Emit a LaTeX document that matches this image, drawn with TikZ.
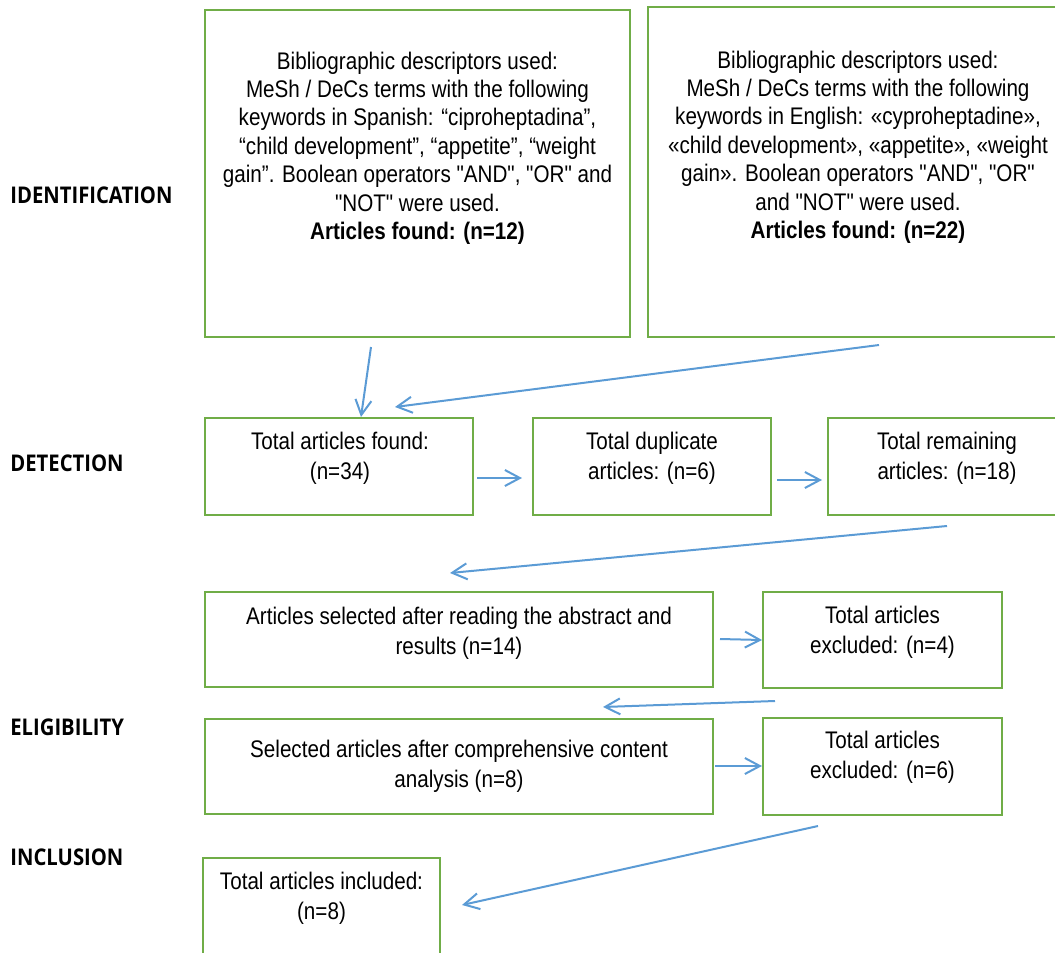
\documentclass[tikz,border=0pt]{standalone}
\usepackage{fontspec}
\setmainfont{Liberation Sans}
\newfontfamily\narrowfont[FakeStretch=0.86]{Liberation Sans}
\newfontfamily\stagefont[FakeStretch=0.88]{Open Sans}
\usetikzlibrary{arrows.meta,calc}
\definecolor{boxgreen}{HTML}{70AD47}
\definecolor{arrowblue}{HTML}{5B9BD5}
\tikzset{
  box/.style={draw=boxgreen,line width=1.2pt,inner sep=0pt,fill=none},
  txt/.style={inner sep=0pt,align=center,font=\narrowfont\fontsize{12pt}{15pt}\selectfont},
  bigtxt/.style={inner sep=0pt,align=center,font=\narrowfont\fontsize{12pt}{14.2pt}\selectfont},
  stage/.style={inner sep=0pt,anchor=west,font=\stagefont\bfseries\fontsize{11.5pt}{14pt}\selectfont},
  flow/.style={draw=arrowblue,line width=1pt,-{Straight Barb[length=7.5pt,width=8pt]}}
}
\begin{document}
\begin{tikzpicture}[x=0.5pt,y=-0.5pt]
\useasboundingbox (0,0) rectangle (1055,953);
\clip (0,0) rectangle (1055,953);

% stage labels
\node[stage] (sid) at (10,195) {IDENTIFICATION};
\node[stage] (sdet) at (10,463) {DETECTION};
\node[stage] (sel) at (10,727) {ELIGIBILITY};
\node[stage] (sinc) at (10,857) {INCLUSION};

% boxes
\node[box,minimum width=212.5pt,minimum height=163.5pt] (b1) at (417.5,173.5) {};
\node[box,minimum width=210pt,minimum height=165pt] (b2) at (858,172) {};
\node[box,minimum width=134pt,minimum height=48.5pt] (bA) at (339,466.5) {};
\node[box,minimum width=119pt,minimum height=48.5pt] (bB) at (652,466.5) {};
\node[box,minimum width=119pt,minimum height=48.5pt] (bC) at (947,466.5) {};
\node[box,minimum width=254pt,minimum height=47.5pt] (bD) at (459,639.5) {};
\node[box,minimum width=119.5pt,minimum height=48pt] (bE) at (882.5,640) {};
\node[box,minimum width=254pt,minimum height=47.5pt] (bF) at (459,766.5) {};
\node[box,minimum width=119.5pt,minimum height=48.5pt] (bG) at (882.5,766.5) {};
\node[box,minimum width=118.5pt,minimum height=71pt] (bH) at (321.5,929) {};

% texts
\node[bigtxt] (t1) at (417.5,148) {Bibliographic descriptors used:\\MeSh / DeCs terms with the following\\keywords in Spanish: “ciproheptadina”,\\“child development”, “appetite”, “weight\\gain”. Boolean operators "AND", "OR" and\\"NOT" were used.\\\textbf{Articles found: (n=12)}};
\node[bigtxt] (t2) at (858,147) {Bibliographic descriptors used:\\MeSh / DeCs terms with the following\\keywords in English: «cyproheptadine»,\\«child development», «appetite», «weight\\gain». Boolean operators "AND", "OR"\\and "NOT" were used.\\\textbf{Articles found: (n=22)}};
\node[txt] (tA) at (340,458) {Total articles found:\\(n=34)};
\node[txt] (tB) at (652,458) {Total duplicate\\articles: (n=6)};
\node[txt] (tC) at (947,458) {Total remaining\\articles: (n=18)};
\node[txt] (tD) at (459,633) {Articles selected after reading the abstract and\\results (n=14)};
\node[txt] (tE) at (882.5,632) {Total articles\\excluded: (n=4)};
\node[txt] (tF) at (459,766) {Selected articles after comprehensive content\\analysis (n=8)};
\node[txt] (tG) at (882.5,757.5) {Total articles\\excluded: (n=6)};
\node[txt] (tH) at (321.5,898) {Total articles included:\\(n=8)};

% connector end points
\coordinate (a1s) at (371,347);  \coordinate (a1e) at (361,417);
\coordinate (a2s) at (879,345);  \coordinate (a2e) at (395,407);
\coordinate (a3s) at (477,478);  \coordinate (a3e) at (522,478);
\coordinate (a4s) at (777,480);  \coordinate (a4e) at (822,480);
\coordinate (a5s) at (947,526);  \coordinate (a5e) at (450,573);
\coordinate (a6s) at (720,639);  \coordinate (a6e) at (762,640);
\coordinate (a7s) at (775,701);  \coordinate (a7e) at (603,707);
\coordinate (a8s) at (715,766);  \coordinate (a8e) at (762,766);
\coordinate (a9s) at (818,826);  \coordinate (a9e) at (462,905);

\draw[flow] (a1s) -- (a1e);
\draw[flow] (a2s) -- (a2e);
\draw[flow] (a3s) -- (a3e);
\draw[flow] (a4s) -- (a4e);
\draw[flow] (a5s) -- (a5e);
\draw[flow] (a6s) -- (a6e);
\draw[flow] (a7s) -- (a7e);
\draw[flow] (a8s) -- (a8e);
\draw[flow] (a9s) -- (a9e);
\end{tikzpicture}
\end{document}
